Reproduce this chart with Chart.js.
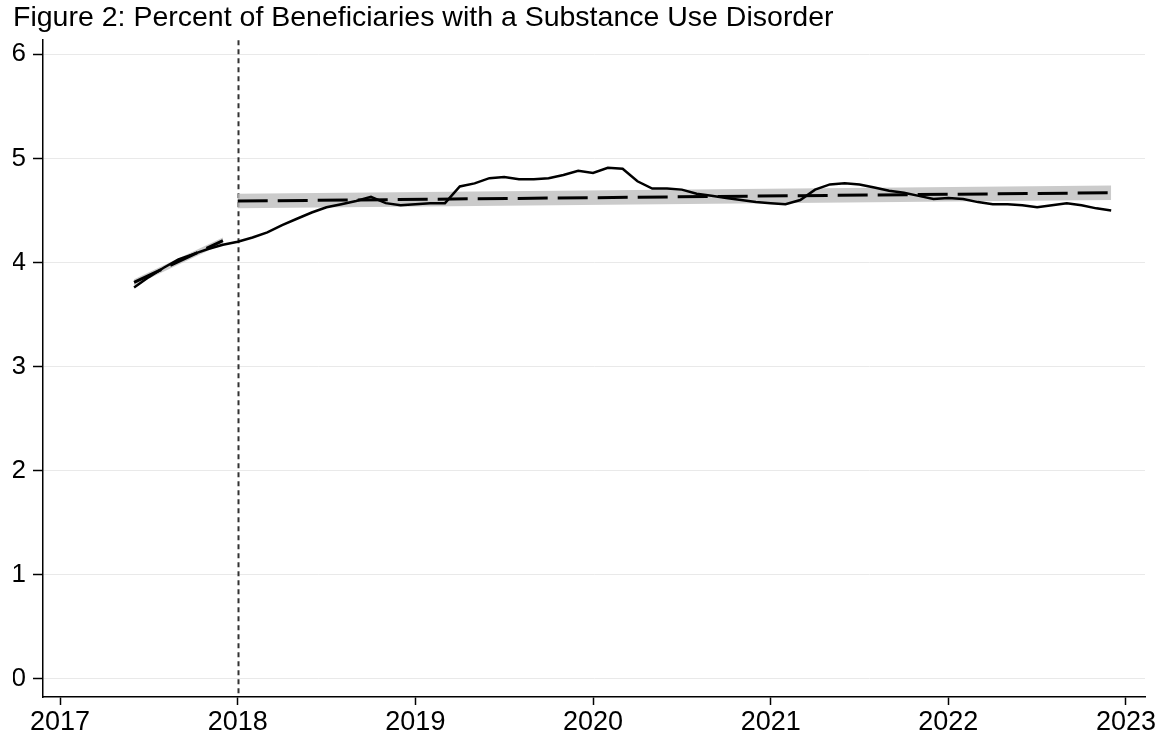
<!DOCTYPE html>
<html>
<head>
<meta charset="utf-8">
<script src="https://cdn.jsdelivr.net/npm/chart.js@4.4.1/dist/chart.umd.min.js"></script>
<style>
  html, body { margin: 0; padding: 0; background: #fff; }
  #wrap { width: 1164px; height: 742px; }
</style>
</head>
<body>
<div id="wrap"><canvas id="sudChart" width="1164" height="742"></canvas></div>
<script>
var chartTitle = 'Figure 2: Percent of Beneficiaries with a Substance Use Disorder';

// monthly series, June 2017 .. December 2022
var firstYear = 2017;
var firstMonth = 6;
var sudPercent = [
  3.76, 3.86, 3.95, 4.03, 4.08, 4.13, 4.17,
  4.20, 4.24, 4.29, 4.36, 4.42, 4.48, 4.53, 4.56, 4.59, 4.63, 4.57, 4.55,
  4.56, 4.57, 4.57, 4.73, 4.76, 4.81, 4.82, 4.80, 4.80, 4.81, 4.84, 4.88,
  4.86, 4.91, 4.90, 4.78, 4.71, 4.71, 4.70, 4.66, 4.64, 4.62, 4.60, 4.58,
  4.57, 4.56, 4.60, 4.70, 4.75, 4.76, 4.75, 4.72, 4.69, 4.67, 4.64, 4.61,
  4.62, 4.61, 4.58, 4.56, 4.56, 4.55, 4.53, 4.55, 4.57, 4.55, 4.52, 4.50
];

// fitted trends (endpoints) with confidence bands
var preFitX = [2017 + 5 / 12, 2017 + 11 / 12];
var preFit = [3.81, 4.21];
var preLow = [3.78, 4.18];
var preHigh = [3.84, 4.24];

var postFitX = [2018, 2022 + 11 / 12];
var postFit = [4.59, 4.67];
var postLow = [4.52, 4.60];
var postHigh = [4.66, 4.74];

var cutoffYear = 2018;
var xTicks = [2017, 2018, 2019, 2020, 2021, 2022, 2023];
var yTicks = [0, 1, 2, 3, 4, 5, 6];

function pts(xs, ys) {
  return ys.map(function (y, i) { return { x: xs[i], y: y }; });
}

var monthX = sudPercent.map(function (v, i) {
  return firstYear + (firstMonth - 1 + i) / 12;
});

var font = 'Liberation Sans';

var cutoffLine = {
  id: 'cutoffLine',
  beforeDatasetsDraw: function (chart) {
    var ctx = chart.ctx;
    var area = chart.chartArea;
    var x = Math.round(chart.scales.x.getPixelForValue(cutoffYear)) + 0.5;
    ctx.save();
    ctx.strokeStyle = '#333';
    ctx.lineWidth = 2;
    ctx.setLineDash([5, 4]);
    ctx.beginPath();
    ctx.moveTo(x, area.top);
    ctx.lineTo(x, area.bottom);
    ctx.stroke();
    ctx.restore();
  }
};

function band(data, fill) {
  return {
    data: data,
    borderWidth: 0,
    pointRadius: 0,
    backgroundColor: 'rgba(190, 190, 190, 0.8)',
    fill: fill,
    order: 5
  };
}

function dashed(data) {
  return {
    data: data,
    borderColor: '#000',
    borderWidth: 3,
    borderDash: [30, 10],
    pointRadius: 0,
    fill: false,
    order: 1
  };
}

new Chart(document.getElementById('sudChart'), {
  type: 'line',
  data: {
    datasets: [
      band(pts(preFitX, preHigh), '+1'),
      band(pts(preFitX, preLow), false),
      band(pts(postFitX, postHigh), '+1'),
      band(pts(postFitX, postLow), false),
      {
        data: pts(monthX, sudPercent),
        borderColor: '#000',
        borderWidth: 2.5,
        pointRadius: 0,
        tension: 0,
        fill: false,
        order: 0
      },
      dashed(pts(preFitX, preFit)),
      dashed(pts(postFitX, postFit))
    ]
  },
  plugins: [cutoffLine],
  options: {
    responsive: false,
    animation: false,
    devicePixelRatio: 1,
    layout: { padding: { left: 13, right: 19, top: 0, bottom: 0 } },
    plugins: {
      legend: { display: false },
      tooltip: { enabled: false },
      title: {
        display: true,
        text: chartTitle,
        align: 'start',
        color: '#000',
        font: { family: font, size: 28.5, weight: 'normal' },
        padding: { top: 1, bottom: 5 }
      }
    },
    scales: {
      x: {
        type: 'linear',
        min: 2016.904,
        max: 2023.107,
        afterBuildTicks: function (s) { s.ticks = xTicks.map(function (v) { return { value: v }; }); },
        afterFit: function (s) { s.height = 45; },
        grid: { drawOnChartArea: false, drawTicks: true, tickLength: 8, tickColor: '#000', tickWidth: 1.5 },
        border: { display: true, color: '#000', width: 1.5 },
        ticks: {
          color: '#000',
          padding: 1,
          maxRotation: 0,
          font: { family: font, size: 27 },
          callback: function (v) { return String(v); }
        }
      },
      y: {
        type: 'linear',
        min: -0.173,
        max: 6.135,
        afterBuildTicks: function (s) { s.ticks = yTicks.map(function (v) { return { value: v }; }); },
        afterFit: function (s) { s.width = 30; },
        grid: { color: '#e9e9e9', lineWidth: 1, drawTicks: true, tickLength: 10, tickColor: '#000', tickWidth: 1.5 },
        border: { display: true, color: '#000', width: 1.5 },
        ticks: {
          color: '#000',
          padding: 7,
          font: { family: font, size: 26 },
          callback: function (v) { return String(v); }
        }
      }
    }
  }
});
</script>
</body>
</html>
